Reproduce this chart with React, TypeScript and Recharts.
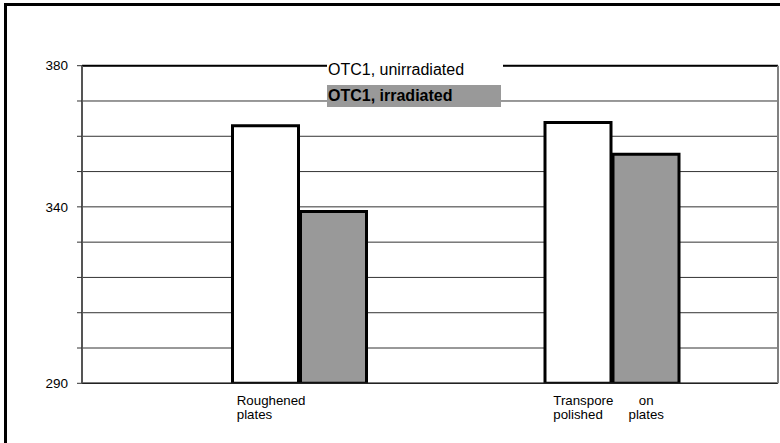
import React from "react";
import { BarChart, Bar, XAxis, YAxis, CartesianGrid, Legend, ReferenceLine } from "recharts";

const categories = ["Roughened plates", "Transpore on polished plates"];
const unirradiated = [363.0, 363.9];
const irradiated = [338.7, 354.9];
const seriesNames = ["OTC1, unirradiated", "OTC1, irradiated"];
const seriesFills = ["#ffffff", "#999999"];
const yTicks = [290, 300, 310, 320, 330, 340, 350, 360, 370, 380];
const yTickLabels = [290, 340, 380];
// label rows as drawn under each category (second column centred)
const tickRows = [
  [["Roughened"], ["plates"]],
  [["Transpore", "on"], ["polished", "plates"]],
];

const data = categories.map((name, i) => ({
  name,
  unirr: unirradiated[i],
  irr: irradiated[i],
}));

const FONT = '"Liberation Sans", Arial, sans-serif';

function CategoryTick(props: any) {
  const { x, y, index } = props;
  const rows = tickRows[index] || [];
  return (
    <g>
      {rows.map((row, r) =>
        row.map((seg, c) => (
          <text
            key={`${r}-${c}`}
            x={c === 0 ? x - (index === 0 ? 63 : 59) : x + 34}
            y={y + 22 + r * 14}
            textAnchor={c === 0 ? "start" : "middle"}
            fontSize={13.3}
            fontFamily={FONT}
            fill="#000"
          >
            {seg}
          </text>
        ))
      )}
    </g>
  );
}

function LegendBoxes() {
  return (
    <div style={{ fontFamily: FONT, fontSize: 16, color: "#000" }}>
      {seriesNames.map((name, i) => (
        <div
          key={name}
          style={{
            height: i === 0 ? 24 : 22,
            lineHeight: i === 0 ? "24px" : "22px",
            marginBottom: i === 0 ? 3 : 0,
            paddingLeft: 1,
            width: i === 0 ? 175 : 173,
            background: seriesFills[i],
            fontWeight: i === 1 ? "bold" : "normal",
            whiteSpace: "nowrap",
          }}
        >
          {name}
        </div>
      ))}
    </div>
  );
}

export default function App() {
  return (
    <div style={{ position: "absolute", left: 0, top: 0, width: 780, height: 443, overflow: "hidden", background: "#fff" }}>
      <div
        style={{
          position: "absolute",
          left: 4,
          top: 3,
          width: 800,
          height: 460,
          borderTop: "3px solid #000",
          borderLeft: "3px solid #000",
        }}
      />
      <div style={{ position: "absolute", left: 0, top: 0 }}>
        <BarChart
          width={780}
          height={443}
          data={data}
          margin={{ top: 65.7, right: 1, bottom: 0, left: 0 }}
          barSize={66}
          barGap={2}
          style={{ fontFamily: FONT }}
        >
          <CartesianGrid vertical={false} stroke="#333" strokeWidth={1} />
          <XAxis
            dataKey="name"
            height={59.7}
            padding={{ left: 61.5, right: 9.5 }}
            tick={<CategoryTick />}
            tickLine={false}
            tickSize={0}
            tickMargin={0}
            axisLine={{ stroke: "#222", strokeWidth: 1.5 }}
            interval={0}
          />
          <YAxis
            width={82}
            domain={[290, 380]}
            ticks={yTicks}
            allowDataOverflow
            tickFormatter={(v: number) => (yTickLabels.includes(v) ? String(v) : "")}
            tick={{ fill: "#000", fontSize: 13.5, fontFamily: FONT }}
            tickSize={5}
            tickMargin={9}
            tickLine={{ stroke: "#333" }}
            axisLine={{ stroke: "#555", strokeWidth: 2 }}
          />
          <YAxis
            yAxisId="frame"
            orientation="right"
            width={1}
            domain={[290, 380]}
            tick={false}
            tickLine={false}
            axisLine={{ stroke: "#808080", strokeWidth: 2 }}
          />
          <ReferenceLine y={380} stroke="#000" strokeWidth={2} />
          <Legend
            verticalAlign="middle"
            align="center"
            layout="horizontal"
            content={<LegendBoxes />}
            wrapperStyle={{ left: 327, top: 58, width: 175, height: 49 }}
          />
          <Bar dataKey="unirr" name={seriesNames[0]} fill={seriesFills[0]} stroke="#000" strokeWidth={3} isAnimationActive={false} />
          <Bar dataKey="irr" name={seriesNames[1]} fill={seriesFills[1]} stroke="#000" strokeWidth={3} isAnimationActive={false} />
        </BarChart>
      </div>
    </div>
  );
}
